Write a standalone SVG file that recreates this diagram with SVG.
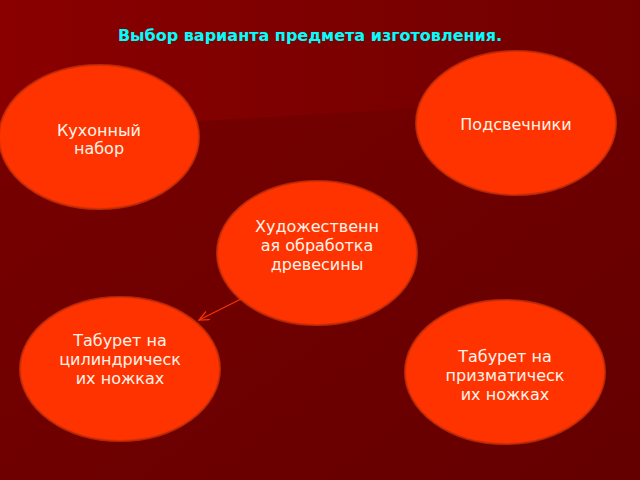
<svg xmlns="http://www.w3.org/2000/svg" width="640" height="480" viewBox="0 0 640 480">
<defs>
<linearGradient id="bg" x1="0" y1="0" x2="1" y2="1">
<stop offset="0" stop-color="#7a0000"/>
<stop offset="1" stop-color="#640000"/>
</linearGradient>
<linearGradient id="sw" x1="0" y1="0" x2="1" y2="0">
<stop offset="0" stop-color="#8a0000"/>
<stop offset="1" stop-color="#700000"/>
</linearGradient>
<marker id="arr" markerWidth="12" markerHeight="10" refX="11" refY="5" orient="auto" markerUnits="userSpaceOnUse">
<path d="M1,0.5 L11,5 L1,9.5" fill="none" stroke="#ff3300" stroke-width="1.2"/>
</marker>
<style>
.n{fill:#ff3300;stroke:#c83008;stroke-width:2;stroke-opacity:0.8}
.t{font-family:"DejaVu Sans",Verdana,sans-serif;font-size:16px;fill:#fff4ea;text-anchor:middle}
.title{font-family:"DejaVu Sans",Verdana,sans-serif;font-size:16px;font-weight:bold;fill:#00ffff;text-anchor:middle}
</style>
</defs>
<rect width="640" height="480" fill="url(#bg)"/>
<path d="M0,0 L640,0 L640,95 Q400,110 160,123 Q80,127 0,132 Z" fill="url(#sw)"/>
<text class="title" x="310" y="41">Выбор варианта предмета изготовления.</text>
<g id="n1">
<ellipse class="n" cx="99" cy="137" rx="100" ry="72"/>
<text class="t" x="99" y="136">Кухонный</text>
<text class="t" x="99" y="154">набор</text>
</g>
<g id="n2">
<ellipse class="n" cx="516" cy="123" rx="100" ry="72"/>
<text class="t" x="516" y="130">Подсвечники</text>
</g>
<g id="n3">
<ellipse class="n" cx="317" cy="253" rx="100" ry="72"/>
<text class="t" x="317" y="232">Художественн</text>
<text class="t" x="317" y="251">ая обработка</text>
<text class="t" x="317" y="270">древесины</text>
</g>
<g id="n4">
<ellipse class="n" cx="120" cy="369" rx="100" ry="72"/>
<text class="t" x="120" y="346">Табурет на</text>
<text class="t" x="120" y="365">цилиндрическ</text>
<text class="t" x="120" y="384">их ножках</text>
</g>
<g id="n5">
<ellipse class="n" cx="505" cy="372" rx="100" ry="72"/>
<text class="t" x="505" y="362">Табурет на</text>
<text class="t" x="505" y="381">призматическ</text>
<text class="t" x="505" y="400">их ножках</text>
</g>
<g id="connectors">
<line x1="241" y1="299" x2="199" y2="320" stroke="#ff3300" stroke-width="1.2" marker-end="url(#arr)"/>
</g>
</svg>
